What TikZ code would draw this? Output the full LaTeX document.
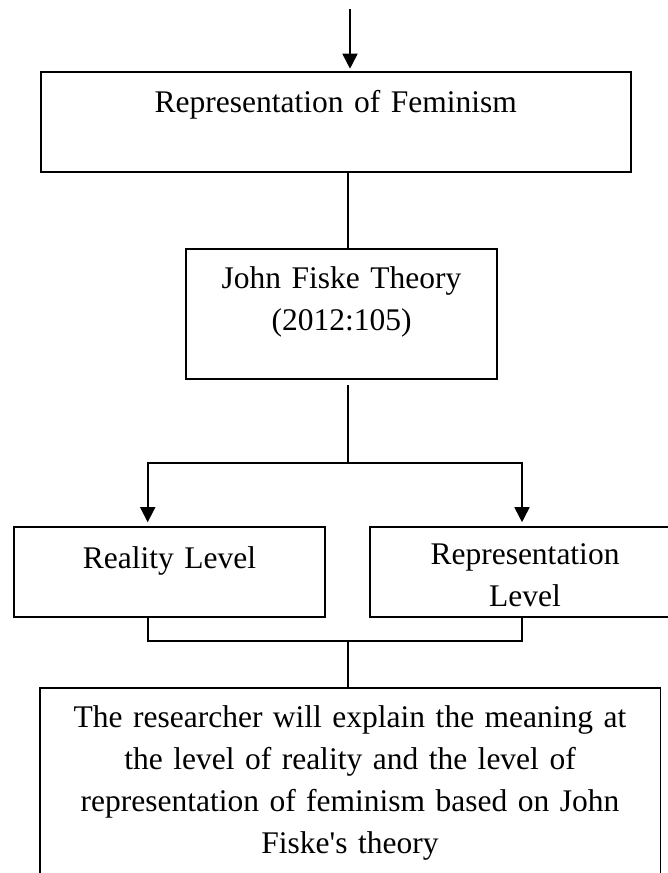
\documentclass[tikz,border=0pt]{standalone}
\usepackage{fontspec}
\setmainfont{Liberation Serif}
\usepackage{tikz}
\usetikzlibrary{arrows.meta,positioning}

\begin{document}
\begin{tikzpicture}[x=1pt,y=-1pt,>={Triangle[length=15pt,width=15pt]},
	every node/.style={font=\fontsize{31.5}{42}\selectfont},
	box/.style={draw,line width=1.8pt,inner sep=0pt,align=center,anchor=north},
	link/.style={line width=1.7pt}]
	\clip (0,0) rectangle (668,873);

	\node[box,text width=590pt,text height=41pt,text depth=59pt] (fem) at (335.8,70.7) {Representation of Feminism};
	\node[box,text width=311pt,text height=39pt,text depth=90.4pt] (fiske) at (341.5,248.3) {John Fiske Theory\\(2012:105)};
	\node[box,text width=310.7pt,text height=41.6pt,text depth=48.4pt] (real) at (169.4,525.7) {Reality Level};
	\node[box,text width=310.4pt,text height=37.6pt,text depth=52.4pt] (repr) at (525,525.7) {Representation\\Level};
	\node[box,text width=620.8pt,text height=39.4pt,text depth=170pt] (res) at (350,687.3) {The researcher will explain the meaning at\\the level of reality and the level of\\representation of feminism based on John\\Fiske\textquotesingle s theory};

	\coordinate (in) at (350,9);
	\coordinate (trunk) at (348,0);
	\coordinate (split) at (348,462.7);
	\coordinate (splitL) at (147.7,462.7);
	\coordinate (splitR) at (522,462.7);
	\coordinate (merge) at (348,641);

	\draw[link,->,shorten >=2pt] (in) -- (in |- fem.north);
	\draw[link] (fem.south -| trunk) -- (fiske.north -| trunk);
	\draw[link] ([yshift=-5.6pt]fiske.south -| trunk) -- (split);
	\draw[link,->,shorten >=3.5pt] (split) -| (splitL |- real.north);
	\draw[link,->,shorten >=3.5pt] (split) -| (splitR |- repr.north);
	\draw[link] (real.south -| splitL) |- (merge) -| (repr.south -| splitR);
	\draw[link] (merge) -- (res.north -| merge);
\end{tikzpicture}
\end{document}
